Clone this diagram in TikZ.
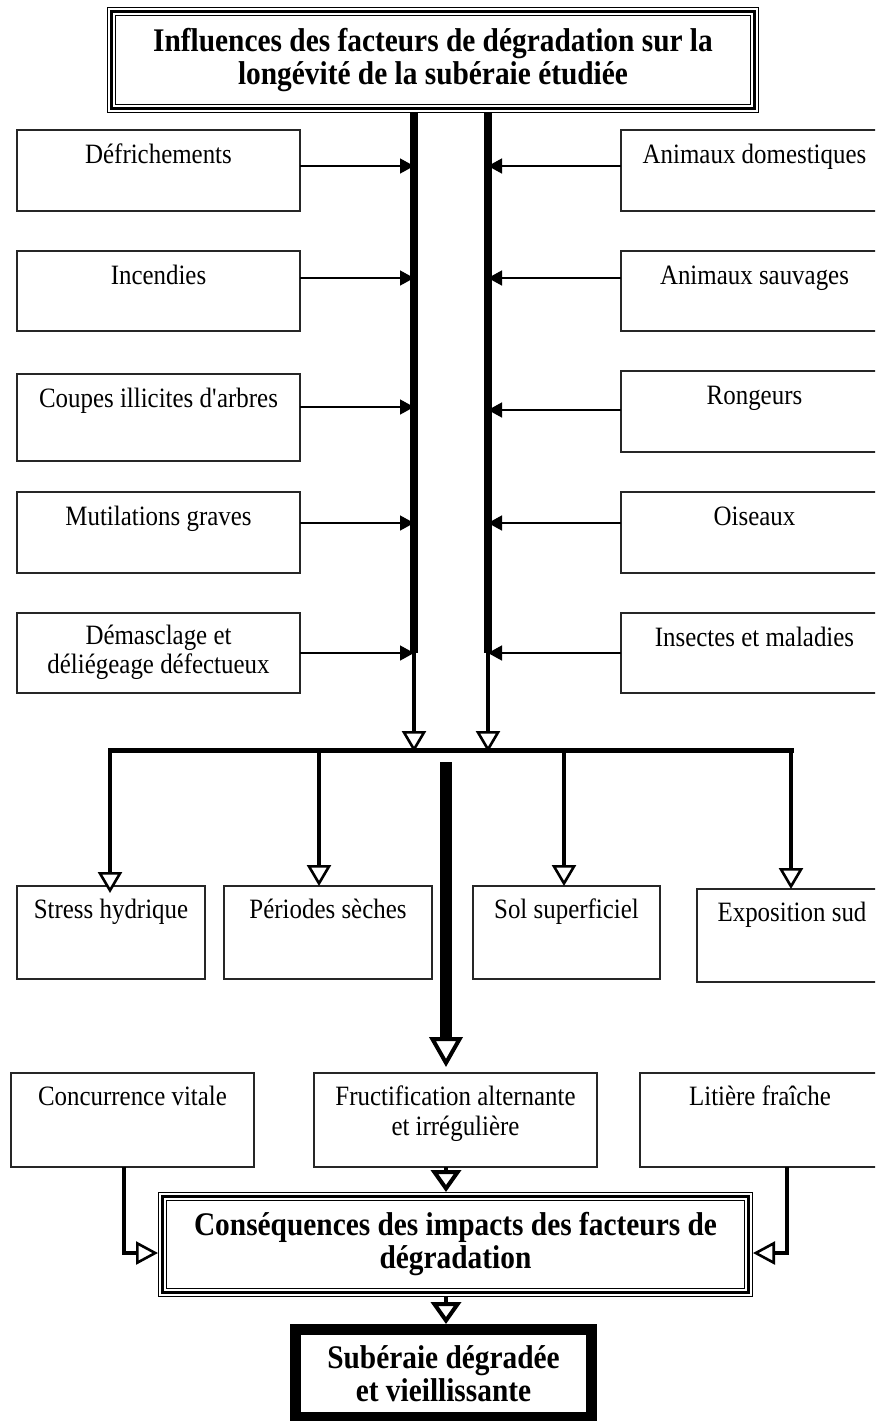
\documentclass[tikz,border=0pt]{standalone}
\usepackage{fontspec}
\setmainfont{Liberation Serif}[FakeStretch=0.89]
\usetikzlibrary{
    arrows.meta,
    positioning
}

\begin{document}
\begin{tikzpicture}[
    x=0.5pt, y=-0.5pt,
    factornode/.style = {rectangle, draw=black!85, line width=0.7pt, inner sep=0pt,
                         outer sep=0pt, align=center,
                         font=\fontsize{14}{14.5}\selectfont,
                         text height=16.5pt, text depth=24pt},
    leftnode/.style   = {factornode, minimum width=141.5pt},
    rightnode/.style  = {factornode, minimum width=133.5pt},
    effectnode/.style = {factornode, text height=16pt, text depth=30.5pt},
    framednode/.style = {rectangle, draw, line width=1.5pt, outer sep=2.25pt,
                         preaction={draw, line width=4.5pt},
                         preaction={draw=white, line width=3.5pt},
                         align=center,
                         font=\bfseries\fontsize{16.5}{16.5}\selectfont},
    finalnode/.style  = {rectangle, draw, line width=5.5pt, align=center,
                         font=\bfseries\fontsize{16.5}{16.5}\selectfont},
    inarrow/.style    = {-{Triangle[length=7pt, width=7.5pt]}, line width=0.75pt},
    openarrow/.style  = {-{Triangle[length=10.5pt, width=12pt, fill=white, line width=1.3pt]},
                         line width=2.25pt},
    sidearrow/.style  = {-{Triangle[length=11pt, width=11.5pt, fill=white, line width=1.3pt]},
                         line width=2pt},
    headarrow/.style  = {-{Triangle[length=11pt, width=15pt, fill=white, line width=2pt]},
                         line width=2pt},
    bigarrow/.style   = {-{Triangle[length=15pt, width=16.5pt, fill=white, line width=2pt]},
                         line width=6pt},
]
    \useasboundingbox (0,0) rectangle (875,1421);
    \clip (0,0) rectangle (875,1421);

    %Nodes
    \node[framednode, minimum width=321.5pt, minimum height=48.5pt] (influences) at (433,60)
        {Influences des facteurs de dégradation sur la\\longévité de la subéraie étudiée};

    \node[leftnode]                     (defrichements) at (158.5,170.5)        {Défrichements};
    \node[leftnode, text depth=23.5pt]  (incendies)   [below=20pt of defrichements] {Incendies};
    \node[leftnode, text depth=27pt]    (coupes)      [below=21.5pt of incendies]   {Coupes illicites d\textquotesingle arbres};
    \node[leftnode]                     (mutilations) [below=15.5pt of coupes]      {Mutilations graves};
    \node[leftnode, text height=30pt, text depth=10pt] (demasclage) [below=20pt of mutilations]
        {Démasclage et\\déliégeage défectueux};

    \node[rightnode]                    (domestiques) [right=160.5pt of defrichements] {Animaux domestiques};
    \node[rightnode, text depth=23.5pt] (sauvages)    [right=160.5pt of incendies]     {Animaux sauvages};
    \node[rightnode, yshift=3pt]        (rongeurs)    [right=160.5pt of coupes]        {Rongeurs};
    \node[rightnode]                    (oiseaux)     [right=160.5pt of mutilations]   {Oiseaux};
    \node[rightnode, text depth=23.5pt] (insectes)    [right=160.5pt of demasclage]    {Insectes et maladies};

    \node[effectnode, minimum width=94pt]   (stress)     at (111,932.5)            {Stress hydrique};
    \node[effectnode, minimum width=104pt]  (periodes)   [right=9.5pt of stress]   {Périodes sèches};
    \node[effectnode, minimum width=93.5pt] (sol)        [right=20.5pt of periodes] {Sol superficiel};
    \node[effectnode, minimum width=95pt, yshift=-1.5pt] (exposition) [right=18.5pt of sol] {Exposition sud};

    \node[effectnode, minimum width=121.5pt, text depth=31pt] (concurrence) at (132.5,1120) {Concurrence vitale};
    \node[effectnode, minimum width=141.5pt, text height=31pt, text depth=16pt,
          font=\fontsize{14}{15}\selectfont] (fructification)
        [right=30pt of concurrence] {Fructification alternante\\et irrégulière};
    \node[effectnode, minimum width=120pt, text depth=31pt]   (litiere) [right=21.5pt of fructification] {Litière fraîche};

    \node[framednode, minimum width=293pt, minimum height=48pt] (consequences) at (455.5,1244.5)
        {Conséquences des impacts des facteurs de\\dégradation};
    \node[finalnode, minimum width=148pt, minimum height=44pt] (suberaie) at (443.5,1373.5)
        {Subéraie dégradée\\et vieillissante};

    \coordinate (leftbar)    at (414,113);
    \coordinate (rightbar)   at (488,113);
    \coordinate (splitleft)  at (110,750);
    \coordinate (splitright) at (791,750);
    \coordinate (heavystart) at (446,762);

    %Lines
    \draw[line width=4pt] (influences.south -| leftbar)  -- (demasclage.east -| leftbar);
    \draw[line width=4pt] (influences.south -| rightbar) -- (insectes.west -| rightbar);

    \draw[inarrow] ([yshift=2.25pt]defrichements.east) -- ([yshift=2.25pt]defrichements.east -| leftbar);
    \draw[inarrow] ([yshift=6.5pt]incendies.east)      -- ([yshift=6.5pt]incendies.east -| leftbar);
    \draw[inarrow] ([yshift=5.25pt]coupes.east)        -- ([yshift=5.25pt]coupes.east -| leftbar);
    \draw[inarrow] ([yshift=4.75pt]mutilations.east)   -- ([yshift=4.75pt]mutilations.east -| leftbar);
    \draw[inarrow] (demasclage.east)                   -- (demasclage.east -| leftbar);

    \draw[inarrow] ([yshift=2.25pt]domestiques.west) -- ([yshift=2.25pt]domestiques.west -| rightbar);
    \draw[inarrow] ([yshift=6.5pt]sauvages.west)     -- ([yshift=6.5pt]sauvages.west -| rightbar);
    \draw[inarrow] ([yshift=0.75pt]rongeurs.west)    -- ([yshift=0.75pt]rongeurs.west -| rightbar);
    \draw[inarrow] ([yshift=4.75pt]oiseaux.west)     -- ([yshift=4.75pt]oiseaux.west -| rightbar);
    \draw[inarrow] (insectes.west)                   -- (insectes.west -| rightbar);

    \draw[line width=2.5pt, line cap=rect] (splitleft) -- (splitright);
    \draw[openarrow] (demasclage.east -| leftbar) -- ([yshift=-1pt]splitleft -| leftbar);
    \draw[openarrow] (insectes.west -| rightbar)  -- ([yshift=-1pt]splitleft -| rightbar);

    \draw[openarrow] (splitleft) -- ([yshift=-3.5pt]stress.north -| splitleft);
    \draw[openarrow] ([xshift=-4.5pt]periodes.north |- splitleft) -- ([xshift=-4.5pt]periodes.north);
    \draw[openarrow] ([xshift=-1.25pt]sol.north |- splitleft) -- ([xshift=-1.25pt]sol.north);
    \draw[openarrow] (splitright) -- (exposition.north -| splitright);

    \draw[bigarrow] (heavystart) -- ([yshift=3pt]fructification.north -| heavystart);
    \draw[headarrow] (fructification.south -| heavystart) -- (consequences.north -| heavystart);
    \draw[sidearrow] ([xshift=-4.25pt]concurrence.south) |- ([yshift=-4.25pt]consequences.west);
    \draw[sidearrow] ([xshift=13.5pt]litiere.south) |- ([yshift=-4.25pt]consequences.east);
    \draw[headarrow] (consequences.south -| heavystart) -- (suberaie.north -| heavystart);
\end{tikzpicture}
\end{document}
